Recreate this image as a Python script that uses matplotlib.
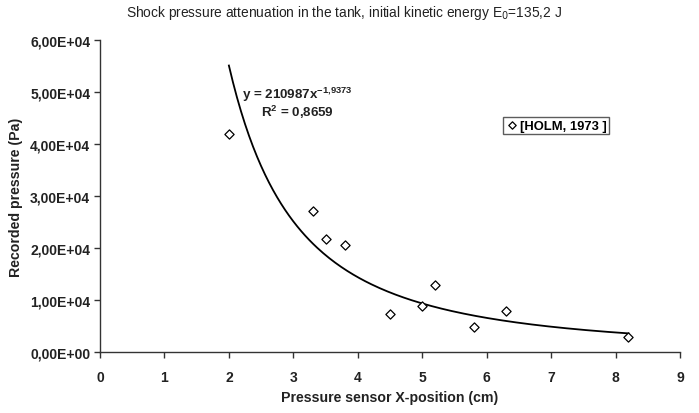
import matplotlib
matplotlib.use("Agg")
import matplotlib.pyplot as plt
import numpy as np

plt.rcParams['font.family'] = ['Liberation Sans', 'DejaVu Sans']
plt.rcParams['mathtext.fontset'] = 'custom'
plt.rcParams['mathtext.rm'] = 'Liberation Sans:bold'
plt.rcParams['mathtext.it'] = 'Liberation Sans:bold'
plt.rcParams['mathtext.default'] = 'rm'

# Data
x_pos = [2.0, 3.3, 3.5, 3.8, 4.5, 5.0, 5.2, 5.8, 6.3, 8.2]
pressure = [41900, 27200, 21700, 20600, 7300, 8800, 12800, 4900, 7900, 2900]
series_name = "[HOLM, 1973 ]"

# Power trendline parameters shown on chart
fit_coef = 210987
fit_exp = -1.9373
fit_r2 = "0,8659"

x_ticks = [0, 1, 2, 3, 4, 5, 6, 7, 8, 9]
y_ticks = [0, 10000, 20000, 30000, 40000, 50000, 60000]
y_tick_labels = ["0,00E+00", "1,00E+04", "2,00E+04", "3,00E+04",
                 "4,00E+04", "5,00E+04", "6,00E+04"]

fig = plt.figure(figsize=(6.99, 4.14), dpi=100)
ax = fig.add_axes([100/699, (414-353)/414, 580/699, 312/414])

xf = np.linspace(min(x_pos), max(x_pos), 200)
ax.plot(xf, fit_coef * xf ** fit_exp, color='black', lw=1.3, zorder=2)
ax.scatter(x_pos, pressure, marker='D', s=22, facecolors='white',
           edgecolors='black', linewidths=0.9, zorder=3, label=series_name)

ax.set_xlim(0, 9)
ax.set_ylim(0, 60000)
ax.set_xticks(x_ticks)
ax.set_xticklabels([str(t) for t in x_ticks], fontweight='bold', fontsize=10)
ax.set_yticks(y_ticks)
ax.set_yticklabels(y_tick_labels, fontweight='bold', fontsize=10)
for s in ['top', 'right']:
    ax.spines[s].set_visible(False)
for s in ['left', 'bottom']:
    ax.spines[s].set_linewidth(1.0)
    ax.spines[s].set_color('#333333')
ax.tick_params(direction='out', length=4, width=1.0, colors='#333333',
               labelcolor='#222222')
ax.tick_params(axis='x', pad=9)
ax.tick_params(axis='y', pad=3)

ax.set_xlabel("Pressure sensor X-position (cm)", fontweight='bold',
              fontsize=10.2, labelpad=4, color='#222222')
ax.set_ylabel("Recorded pressure (Pa)", fontweight='bold', fontsize=10.2,
              labelpad=5, color='#222222')

fig.text(344/699, 1 - 13/414, "Shock pressure attenuation in the tank, initial kinetic energy E$_0$=135,2 J",
         ha='center', va='center', fontsize=9.9, color='#222222',
         math_fontfamily='dejavusans')

ax.text(2.2, 49600, "y = 210987x$^{-1{,}9373}$", fontsize=9.6, fontweight='bold',
        ha='left', va='center', color='#222222')
ax.text(2.5, 46300, "R$^{2}$ = " + fit_r2, fontsize=9.6, fontweight='bold',
        ha='left', va='center', color='#222222')

leg = ax.legend(loc='upper left', bbox_to_anchor=(403/580, (353-118)/312),
                frameon=True, fancybox=False, edgecolor='#333333',
                prop={'size': 9.4, 'weight': 'bold'}, handletextpad=0.1,
                markerscale=0.8, borderpad=0.2, handlelength=1.0,
                borderaxespad=0)
leg.get_frame().set_linewidth(1.0)

fig.savefig("out.png", dpi=100)
